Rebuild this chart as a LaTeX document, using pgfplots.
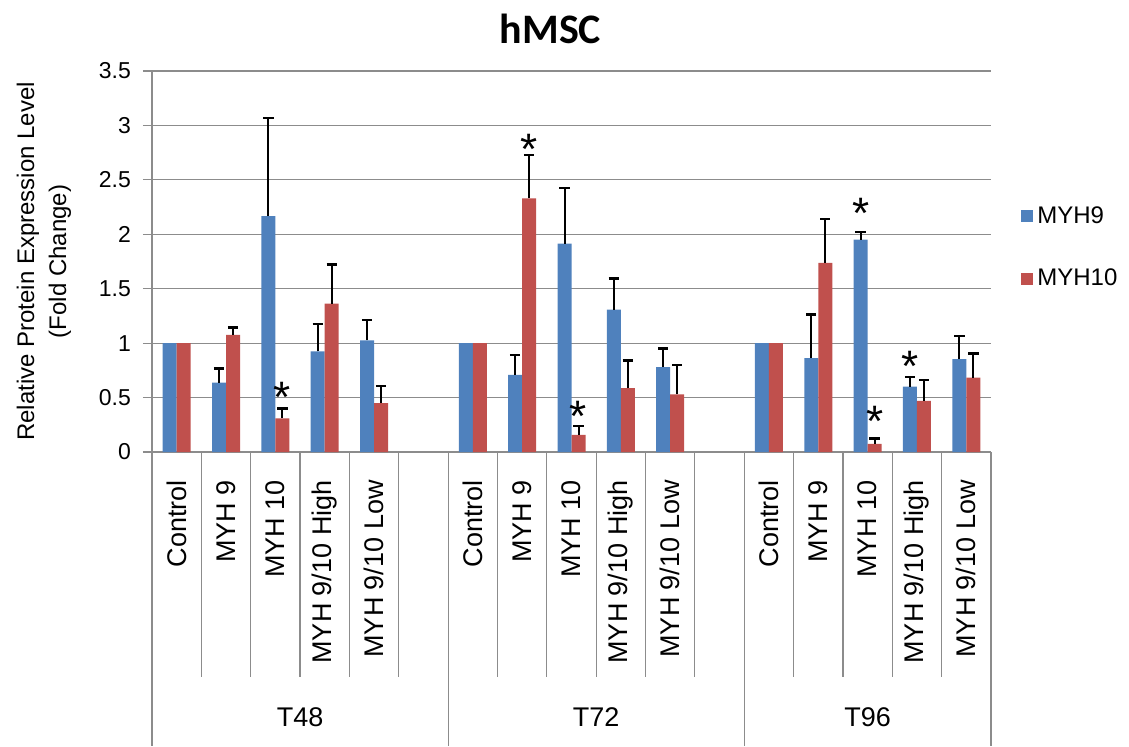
\documentclass[border=0pt]{standalone}
\usepackage{fontspec}
\setmainfont{Liberation Sans}
\newfontfamily\titlefont{Carlito}
\usepackage{pgfplots}
\pgfplotsset{compat=1.18}
\definecolor{myblue}{HTML}{4F81BD}
\definecolor{myred}{HTML}{C0504D}
\definecolor{axgray}{HTML}{8C8C8C}
\begin{document}
\begin{tikzpicture}
\useasboundingbox (-76pt,-147pt) rectangle (488.5pt,226pt);
\begin{axis}[
  at={(0,0)}, anchor=south west,
  scale only axis, width=419.5pt, height=190.5pt,
  xmin=0, xmax=17, ymin=0, ymax=3.5,
  ybar, bar width=7pt,
  clip=false,
  xtick=\empty,
  ytick={0,0.5,1,1.5,2,2.5,3,3.5},
  /pgf/number format/assume math mode=true,
  yticklabel style={font=\fontsize{11.5}{13}\selectfont, text=black, xshift=-2.5pt},
  axis x line*=bottom, axis y line*=left,
  axis line style={draw=axgray, line width=0.6pt, -},
  ytick style={draw=axgray, line width=0.6pt},
  tick align=outside, major tick length=4.5pt,
  ymajorgrids, grid style={draw=axgray, line width=0.6pt},
  error bars/error bar style={black, line width=1pt},
  error bars/error mark options={black, line width=1.2pt, mark size=2.6pt, rotate=90},
  legend style={at={(rel axis cs:1.0286,0.6665)}, anchor=north west, draw=none, fill=none,
    font=\fontsize{12}{14}\selectfont, row sep=17.5pt,
    /tikz/every even column/.append style={column sep=2pt}},
  legend cell align=left,
  legend image code/.code={\fill[#1] (0pt,-3pt) rectangle (6pt,3pt);},
]
% MYH9 (blue)
\addplot[fill=myblue, draw=none, bar shift=-3.5pt,
  error bars/.cd, y dir=plus, y explicit]
  coordinates {
  (1.5,0.638) +- (0,0.13)
  (2.5,2.167) +- (0,0.90)
  (3.5,0.924) +- (0,0.25)
  (4.5,1.025) +- (0,0.19)
  (7.5,0.709) +- (0,0.18)
  (8.5,1.915) +- (0,0.51)
  (9.5,1.308) +- (0,0.285)
  (10.5,0.78) +- (0,0.17)
  (13.5,0.863) +- (0,0.40)
  (14.5,1.952) +- (0,0.07)
  (15.5,0.60) +- (0,0.09)
  (16.5,0.854) +- (0,0.21)
  };
\addlegendentry{MYH9}
% MYH10 (red)
\addplot[fill=myred, draw=none, bar shift=3.5pt,
  error bars/.cd, y dir=plus, y explicit]
  coordinates {
  (1.5,1.077) +- (0,0.065)
  (2.5,0.31) +- (0,0.09)
  (3.5,1.363) +- (0,0.36)
  (4.5,0.448) +- (0,0.16)
  (7.5,2.33) +- (0,0.40)
  (8.5,0.157) +- (0,0.08)
  (9.5,0.586) +- (0,0.255)
  (10.5,0.53) +- (0,0.27)
  (13.5,1.737) +- (0,0.405)
  (14.5,0.074) +- (0,0.05)
  (15.5,0.47) +- (0,0.19)
  (16.5,0.684) +- (0,0.22)
  };
\addlegendentry{MYH10}
% Controls (no error bars)
\addplot[forget plot, fill=myblue, draw=none, bar shift=-3.5pt]
  coordinates {(0.5,1) (6.5,1) (12.5,1)};
\addplot[forget plot, fill=myred, draw=none, bar shift=3.5pt]
  coordinates {(0.5,1) (6.5,1) (12.5,1)};
% significance stars
\addplot[forget plot, draw=none, fill=none, bar shift=0pt,
  nodes near coords={*},
  every node near coord/.append style={anchor=center, inner sep=0pt, text=black,
    font=\fontsize{22}{22}\selectfont}]
  coordinates {(2.642,0.50) (7.642,2.78) (8.642,0.33) (14.358,2.19) (14.642,0.28) (15.358,0.79)};

% category axis lines
\foreach \x in {1,2,3,4,5,7,8,9,10,11,13,14,15,16}{
  \edef\temp{\noexpand\draw[axgray, line width=0.6pt] (axis cs:\x,0) -- ++(0,-112.5pt);}\temp
}
\foreach \x in {0,6,12,17}{
  \edef\temp{\noexpand\draw[axgray, line width=0.6pt] (axis cs:\x,0) -- ++(0,-147pt);}\temp
}
% inner category labels
\foreach \x/\lab in {0.5/Control,1.5/MYH 9,2.5/MYH 10,3.5/MYH 9\slash 10 High,4.5/MYH 9\slash 10 Low,
  6.5/Control,7.5/MYH 9,8.5/MYH 10,9.5/MYH 9\slash 10 High,10.5/MYH 9\slash 10 Low,
  12.5/Control,13.5/MYH 9,14.5/MYH 10,15.5/MYH 9\slash 10 High,16.5/MYH 9\slash 10 Low}{
  \edef\temp{\noexpand\node[rotate=90, anchor=east, inner sep=0pt, font=\noexpand\fontsize{13.5}{15}\noexpand\selectfont]
    at ([yshift=-14pt]axis cs:\x,0) {\unexpanded\expandafter{\lab}};}\temp
}
% group labels
\node[font=\fontsize{13.5}{15}\selectfont] at ([yshift=-132.4pt]axis cs:3,0) {T48};
\node[font=\fontsize{13.5}{15}\selectfont] at ([yshift=-132.4pt]axis cs:9,0) {T72};
\node[font=\fontsize{13.5}{15}\selectfont] at ([yshift=-132.4pt]axis cs:14.5,0) {T96};
% y label
\node[rotate=90, align=center, font=\fontsize{12}{16}\selectfont]
  at ([xshift=-54pt]rel axis cs:0,0.5) {Relative Protein Expression Level\\(Fold Change)};
\end{axis}
\node[anchor=base, font=\titlefont\bfseries\fontsize{21}{25}\selectfont] at (199.25pt,204.5pt) {hMSC};
\end{tikzpicture}
\end{document}
